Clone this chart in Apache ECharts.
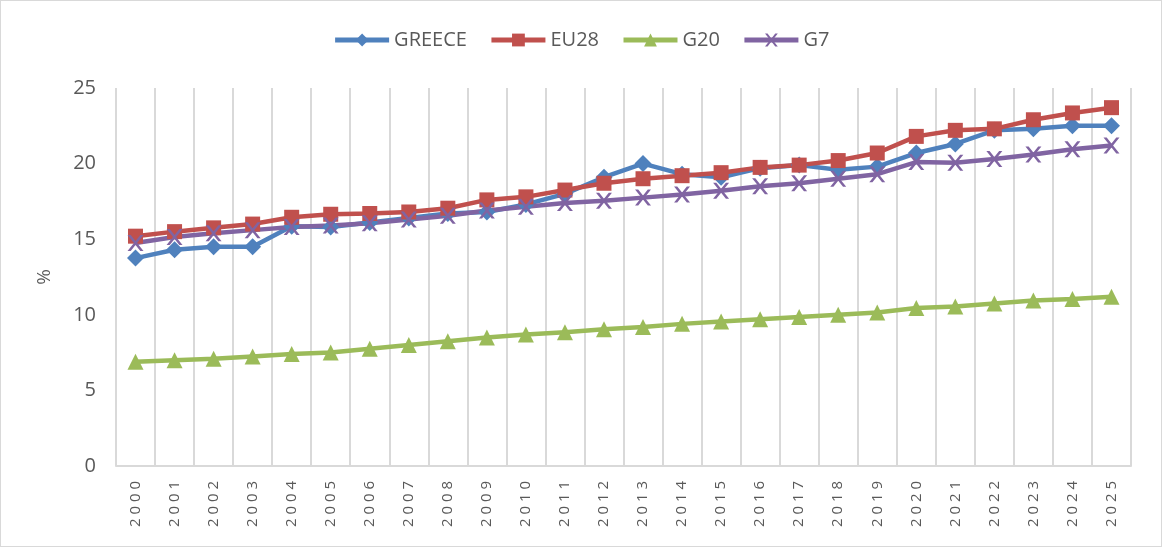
<!DOCTYPE html>
<html>
<head>
<meta charset="utf-8">
<script src="https://cdn.jsdelivr.net/npm/echarts@6/dist/echarts.min.js"></script>
<style>
  html, body { margin: 0; padding: 0; background: #ffffff; }
  .box {
    width: 1162px;
    height: 547px;
    box-sizing: border-box;
    border: 1px solid #d9d9d9;
    background: #ffffff;
  }
  #chart { width: 1160px; height: 545px; }
</style>
</head>
<body>
<div class="box"><div id="chart"></div></div>
<script>
// 年份
const years = ['2000', '2001', '2002', '2003', '2004', '2005', '2006', '2007', '2008', '2009',
  '2010', '2011', '2012', '2013', '2014', '2015', '2016', '2017', '2018', '2019',
  '2020', '2021', '2022', '2023', '2024', '2025']

// 数据
const greece = [13.75, 14.3, 14.5, 14.5, 15.85, 15.8, 16.1, 16.4, 16.7, 16.8,
  17.3, 18.0, 19.1, 20.0, 19.3, 19.1, 19.7, 19.9, 19.6, 19.8,
  20.7, 21.3, 22.2, 22.3, 22.5, 22.5]
const eu28 = [15.2, 15.5, 15.75, 16.0, 16.45, 16.65, 16.7, 16.8, 17.05, 17.6,
  17.8, 18.25, 18.7, 19.0, 19.2, 19.4, 19.75, 19.9, 20.2, 20.7,
  21.8, 22.2, 22.3, 22.9, 23.35, 23.7]
const g20 = [6.9, 7.0, 7.1, 7.25, 7.4, 7.5, 7.75, 8.0, 8.25, 8.5,
  8.7, 8.85, 9.05, 9.2, 9.4, 9.55, 9.7, 9.85, 10.0, 10.15,
  10.45, 10.55, 10.75, 10.95, 11.05, 11.2]
const g7 = [14.75, 15.15, 15.4, 15.6, 15.8, 15.9, 16.05, 16.3, 16.55, 16.9,
  17.15, 17.4, 17.55, 17.75, 17.95, 18.2, 18.5, 18.7, 19.0, 19.3,
  20.1, 20.05, 20.3, 20.6, 20.95, 21.2]

// y轴刻度
const yMin = 0
const yMax = 25
const yStep = 5

const colors = ['#4F81BD', '#C0504D', '#9BBB59', '#8064A2']
const font = 'Open Sans, Liberation Sans, sans-serif'
const xMark = 'path://M0,0 L2,0 L5,3 L8,0 L10,0 L6,4 L10,8 L8,8 L5,5 L2,8 L0,8 L4,4 Z'

const mkSeries = (name, data, symbol, size, color) => ({
  name: name,
  type: 'line',
  data: data,
  symbol: symbol,
  symbolSize: size,
  lineStyle: { width: 4.5, color: color },
  itemStyle: { color: color },
  emphasis: { disabled: true },
  z: 2
})

const myChart = echarts.init(document.getElementById('chart'))
myChart.setOption({
  animation: false,
  color: colors,
  legend: {
    top: 24,
    left: 'center',
    itemWidth: 54,
    itemHeight: 16,
    itemGap: 22,
    lineStyle: { width: 5 },
    textStyle: { color: '#595959', fontSize: 20, fontFamily: font },
    data: ['GREECE', 'EU28', 'G20', 'G7']
  },
  grid: {
    left: 115,
    right: 30,
    top: 87,
    bottom: 80
  },
  xAxis: {
    type: 'category',
    data: years,
    boundaryGap: true,
    axisLine: { lineStyle: { color: '#d9d9d9', width: 2 } },
    axisTick: { show: false },
    splitLine: { show: true, interval: 0, lineStyle: { color: '#d9d9d9', width: 2 } },
    axisLabel: {
      interval: 0,
      rotate: 90,
      margin: 15,
      color: '#595959',
      fontSize: 15,
      fontFamily: font,
      formatter: v => v.split('').join(' ')
    }
  },
  yAxis: {
    type: 'value',
    min: yMin,
    max: yMax,
    interval: yStep,
    name: '%',
    nameLocation: 'middle',
    nameGap: 62,
    nameTextStyle: { color: '#595959', fontSize: 19, fontFamily: font },
    axisLine: { show: false },
    axisTick: { show: false },
    splitLine: { show: false },
    axisLabel: { color: '#595959', fontSize: 20, fontFamily: font, margin: 20 }
  },
  series: [
    mkSeries('GREECE', greece, 'diamond', 17, colors[0]),
    mkSeries('EU28', eu28, 'rect', 15, colors[1]),
    mkSeries('G20', g20, 'triangle', 16, colors[2]),
    mkSeries('G7', g7, xMark, 16, colors[3])
  ]
})
</script>
</body>
</html>
